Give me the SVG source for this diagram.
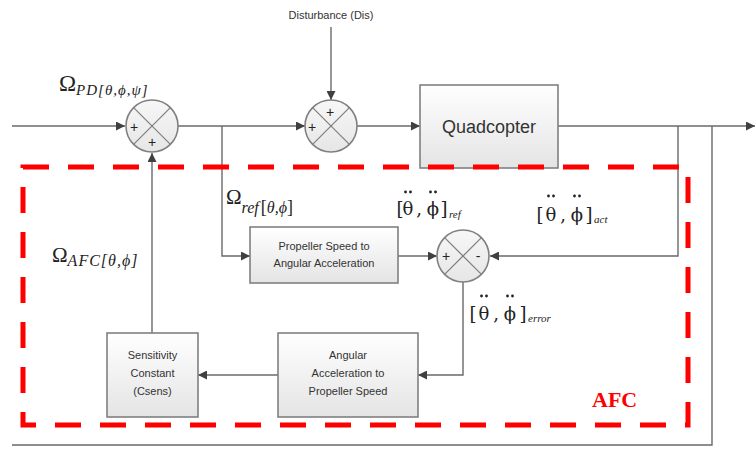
<svg xmlns="http://www.w3.org/2000/svg" width="755" height="450" viewBox="0 0 755 450">
<defs>
<linearGradient id="boxg" x1="0" y1="0" x2="0" y2="1"><stop offset="0" stop-color="#ffffff"/><stop offset="1" stop-color="#e4e4e4"/></linearGradient>
<linearGradient id="circg" x1="0" y1="0" x2="0" y2="1"><stop offset="0" stop-color="#f7f7f7"/><stop offset="1" stop-color="#e6e6e6"/></linearGradient>
<marker id="ah" viewBox="0 0 10 10" refX="10" refY="5" markerWidth="9" markerHeight="9" markerUnits="userSpaceOnUse" orient="auto"><path d="M0,0 L10,5 L0,10 Z" fill="#404040"/></marker>
</defs>
<style>
.box{fill:url(#boxg);stroke:#808080;stroke-width:1.6}
.sum{fill:url(#circg);stroke:#808080;stroke-width:1.6}
.x{stroke:#808080;stroke-width:1.3}
.c{fill:none;stroke:#6a6a6a;stroke-width:1.4}
.a{marker-end:url(#ah)}
.bt{font-family:"Liberation Sans","DejaVu Sans",sans-serif;font-size:11px;fill:#333;text-anchor:middle}
.sg{font-family:"Liberation Sans","DejaVu Sans",sans-serif;font-size:14px;fill:#222;text-anchor:middle;dominant-baseline:central}
.m{font-family:"DejaVu Serif","Liberation Serif",serif;fill:#222;font-size:18px;text-anchor:middle}
.ms{font-family:"Liberation Serif","DejaVu Serif",serif;fill:#222;font-size:11px;font-style:italic}
.om{font-family:"Liberation Serif","DejaVu Serif",serif;fill:#222}
.it{font-style:italic}
.dot{fill:#222}
</style>
<rect width="755" height="450" fill="#ffffff"/>

<g id="connectors">
<path class="c a" d="M12,126 H125"/>
<path class="c a" d="M178,126 H305"/>
<path class="c a" d="M331,27 V100"/>
<path class="c a" d="M357,126 H420"/>
<path class="c a" d="M558,126 H755"/>
<path class="c a" d="M222,126 V256 H250"/>
<path class="c a" d="M678,126 V256 H490"/>
<path class="c" d="M712,126 V445 H12"/>
<path class="c a" d="M398,256 H437"/>
<path class="c a" d="M463,282 V375 H418"/>
<path class="c a" d="M278,375 H198"/>
<path class="c a" d="M152,333 V153"/>
</g>

<g id="sum1">
<circle class="sum" cx="152" cy="126" r="26"/>
<path class="x" d="M133.6,107.6 L170.4,144.4 M170.4,107.6 L133.6,144.4"/>
<text class="sg" x="134" y="127">+</text>
<text class="sg" x="152" y="142">+</text>
</g>

<g id="sum2">
<circle class="sum" cx="331" cy="126" r="26"/>
<path class="x" d="M312.6,107.6 L349.4,144.4 M349.4,107.6 L312.6,144.4"/>
<text class="sg" x="312" y="127">+</text>
<text class="sg" x="330" y="112">+</text>
</g>

<g id="sum3">
<circle class="sum" cx="463" cy="256" r="26"/>
<path class="x" d="M444.6,237.6 L481.4,274.4 M481.4,237.6 L444.6,274.4"/>
<text class="sg" x="446" y="256">+</text>
<text class="sg" x="478" y="256">-</text>
</g>

<g id="disturbance">
<text class="bt" x="331" y="19">Disturbance (Dis)</text>
</g>

<g id="quadcopter">
<rect class="box" x="420" y="85" width="138" height="83"/>
<text x="489" y="133" font-family="Liberation Sans,sans-serif" font-size="18" fill="#333" text-anchor="middle">Quadcopter</text>
</g>

<g id="prop2acc">
<rect class="box" x="250" y="227" width="148" height="56"/>
<text class="bt" x="324" y="250">Propeller Speed to</text>
<text class="bt" x="324" y="267">Angular Acceleration</text>
</g>

<g id="acc2prop">
<rect class="box" x="278" y="333" width="140" height="84"/>
<text class="bt" x="348" y="359">Angular</text>
<text class="bt" x="348" y="377">Acceleration to</text>
<text class="bt" x="348" y="395">Propeller Speed</text>
</g>

<g id="sensitivity">
<rect class="box" x="107" y="333" width="91" height="84"/>
<text class="bt" x="152.5" y="359">Sensitivity</text>
<text class="bt" x="152.5" y="377">Constant</text>
<text class="bt" x="152.5" y="395">(Csens)</text>
</g>

<g id="afc-boundary">
<rect x="23" y="167" width="665" height="258" fill="none" stroke="#ff0000" stroke-width="5" stroke-dasharray="26 19"/>
<text x="592" y="407" font-family="Liberation Serif,serif" font-weight="bold" font-size="22" fill="#ff0000">AFC</text>
</g>

<g id="labels">
<text class="om" x="59" y="91" font-size="23">Ω<tspan class="it" font-size="15" dy="4" letter-spacing="1">PD[θ,ϕ,ψ]</tspan></text>
<text class="om" x="226" y="204" font-size="21">Ω<tspan class="it" font-size="16" dy="9">ref</tspan><tspan font-size="18" dx="2">[</tspan><tspan class="it" font-size="16">θ,ϕ</tspan><tspan font-size="18">]</tspan></text>
<text class="om" x="52" y="262" font-size="21">Ω<tspan class="it" font-size="16" dy="4" letter-spacing="1">AFC[θ,ϕ]</tspan></text>

<g id="lbl-ref">
<text class="m" x="400 408 419 433 444" y="215">[θ,ϕ]</text>
<text class="ms" x="449" y="218">ref</text>
<circle class="dot" cx="405.5" cy="192" r="1.4"/><circle class="dot" cx="410.5" cy="192" r="1.4"/>
<circle class="dot" cx="430.5" cy="192" r="1.4"/><circle class="dot" cx="435.5" cy="192" r="1.4"/>
</g>
<g id="lbl-act">
<text class="m" x="540 551 563 577 589" y="221">[θ,ϕ]</text>
<text class="ms" x="594" y="223">act</text>
<circle class="dot" cx="548.5" cy="196" r="1.4"/><circle class="dot" cx="553.5" cy="196" r="1.4"/>
<circle class="dot" cx="574.5" cy="196" r="1.4"/><circle class="dot" cx="579.5" cy="196" r="1.4"/>
</g>
<g id="lbl-error">
<text class="m" x="473 484 496 510 523" y="320">[θ,ϕ]</text>
<text class="ms" x="528" y="322">error</text>
<circle class="dot" cx="481.5" cy="296" r="1.4"/><circle class="dot" cx="486.5" cy="296" r="1.4"/>
<circle class="dot" cx="507.5" cy="296" r="1.4"/><circle class="dot" cx="512.5" cy="296" r="1.4"/>
</g>
</g>
</svg>
